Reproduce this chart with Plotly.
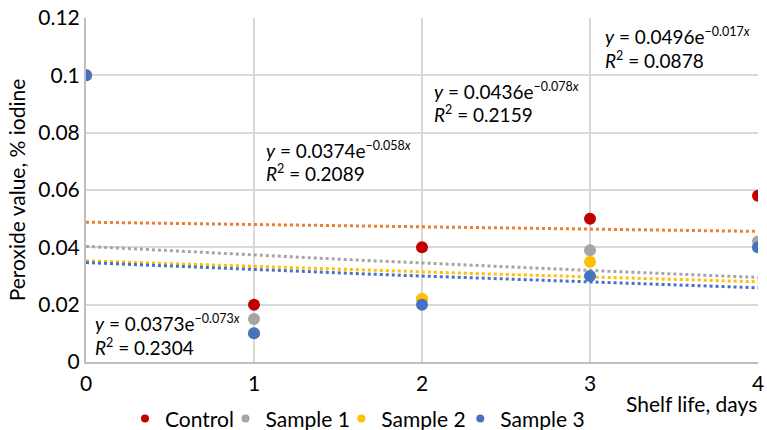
import math
import plotly.graph_objects as go

days = [0, 1, 2, 3, 4]
control = [0.1, 0.02, 0.04, 0.05, 0.058]
sample1 = [0.1, 0.015, 0.022, 0.039, 0.042]
sample2 = [0.1, 0.01, 0.022, 0.035, 0.04]
sample3 = [0.1, 0.01, 0.02, 0.03, 0.04]

series_names = ["Control", "Sample 1", "Sample 2", "Sample 3"]
series_values = [control, sample1, sample2, sample3]
marker_colors = ["#C00000", "#A5A5A5", "#FFC000", "#4472C4"]
trend_colors = ["#ED7D31", "#A5A5A5", "#FFC000", "#4472C4"]

# exponential trendline coefficients (y = a*e^(b*n), n = point number starting at 1)
trend_a = [0.0496, 0.0436, 0.0374, 0.0373]
trend_b = [-0.017, -0.078, -0.058, -0.073]
trend_a_txt = ["0.0496", "0.0436", "0.0374", "0.0373"]
trend_b_txt = ["0.017", "0.078", "0.058", "0.073"]
trend_r2 = ["0.0878", "0.2159", "0.2089", "0.2304"]

# label placement (data coords): x, y of line 1, y of line 2
label_pos = [(3.077, 0.1137, 0.1052), (2.06, 0.0946, 0.0866),
             (1.060, 0.0738, 0.0659), (0.043, 0.01365, 0.0053)]
legend_x = [0.058, 0.2076, 0.380, 0.557]

FONT = "Lato, Carlito, 'Open Sans', sans-serif"
FS = 21
FA = 19
fig = go.Figure()

xs = [i * 0.05 for i in range(81)]
for name, a, b, c in zip(series_names, trend_a, trend_b, trend_colors):
    ys = [a * math.exp(b * (x + 1)) for x in xs]
    fig.add_trace(go.Scatter(x=xs, y=ys, mode="lines", showlegend=False,
                             line=dict(color=c, width=3, dash="dot"),
                             hoverinfo="skip"))

for name, vals, c in zip(series_names, series_values, marker_colors):
    fig.add_trace(go.Scatter(x=days, y=vals, mode="markers", name=name, showlegend=False,
                             marker=dict(color=c, size=12)))

legend_ids = ["legend", "legend2", "legend3", "legend4"]
for name, c, lid in zip(series_names, marker_colors, legend_ids):
    fig.add_trace(go.Scatter(x=[None], y=[None], mode="markers", name=name,
                             marker=dict(color=c, size=8), legend=lid))

SUP = '<sup><span style="font-size:12.5px">{}</span></sup>'
for (lx, ly1, ly2), at, bt, r2 in zip(label_pos, trend_a_txt, trend_b_txt, trend_r2):
    fig.add_annotation(x=lx, y=ly1, xref="x", yref="y", xanchor="left", yanchor="middle",
                       align="left", showarrow=False,
                       text=f"<i>y</i> = {at}e" + SUP.format(f"−{bt}<i>x</i>"),
                       font=dict(size=FA, color="#000000", family=FONT))
    fig.add_annotation(x=lx, y=ly2, xref="x", yref="y", xanchor="left", yanchor="middle",
                       align="left", showarrow=False,
                       text="<i>R</i>" + SUP.format("2") + f" = {r2}",
                       font=dict(size=FA, color="#000000", family=FONT))

fig.add_annotation(x=1.002, y=-0.12, xref="paper", yref="paper", xanchor="right", yanchor="middle",
                   showarrow=False, text="Shelf life, days",
                   font=dict(size=FS, color="#000000", family=FONT))

layout_legends = {}
for lid, lx in zip(legend_ids, legend_x):
    layout_legends[lid] = dict(orientation="h", x=lx, xanchor="left", y=-0.165, yanchor="middle",
                               font=dict(size=FS, family=FONT, color="#000000"),
                               itemwidth=30, bgcolor="rgba(0,0,0,0)")

fig.update_layout(
    width=767, height=430,
    margin=dict(l=86, r=9, t=18, b=68, autoexpand=False),
    plot_bgcolor="white", paper_bgcolor="white",
    font=dict(family=FONT, size=FS, color="#000000"),
    xaxis=dict(range=[0, 4], tickvals=days, ticktext=[str(d) for d in days],
               showgrid=True, gridcolor="#D9D9D9", gridwidth=2,
               showline=True, linecolor="#BFBFBF", linewidth=2, automargin=False,
               zeroline=False, ticks="", tickfont=dict(size=FS), ticklabelstandoff=2),
    yaxis=dict(range=[0, 0.12], tickvals=[0, 0.02, 0.04, 0.06, 0.08, 0.1, 0.12],
               ticktext=["0", "0.02", "0.04", "0.06", "0.08", "0.1", "0.12"],
               showgrid=True, gridcolor="#D9D9D9", gridwidth=2,
               showline=True, linecolor="#BFBFBF", linewidth=2, automargin=False,
               zeroline=False, ticks="", tickfont=dict(size=FS),
               title=dict(text="Peroxide value, % iodine", font=dict(size=FS), standoff=7)),
    **layout_legends,
)

fig.write_html("out.html", config={"displayModeBar": False},
               post_script="document.body.style.margin='0';document.body.style.overflow='hidden';")
